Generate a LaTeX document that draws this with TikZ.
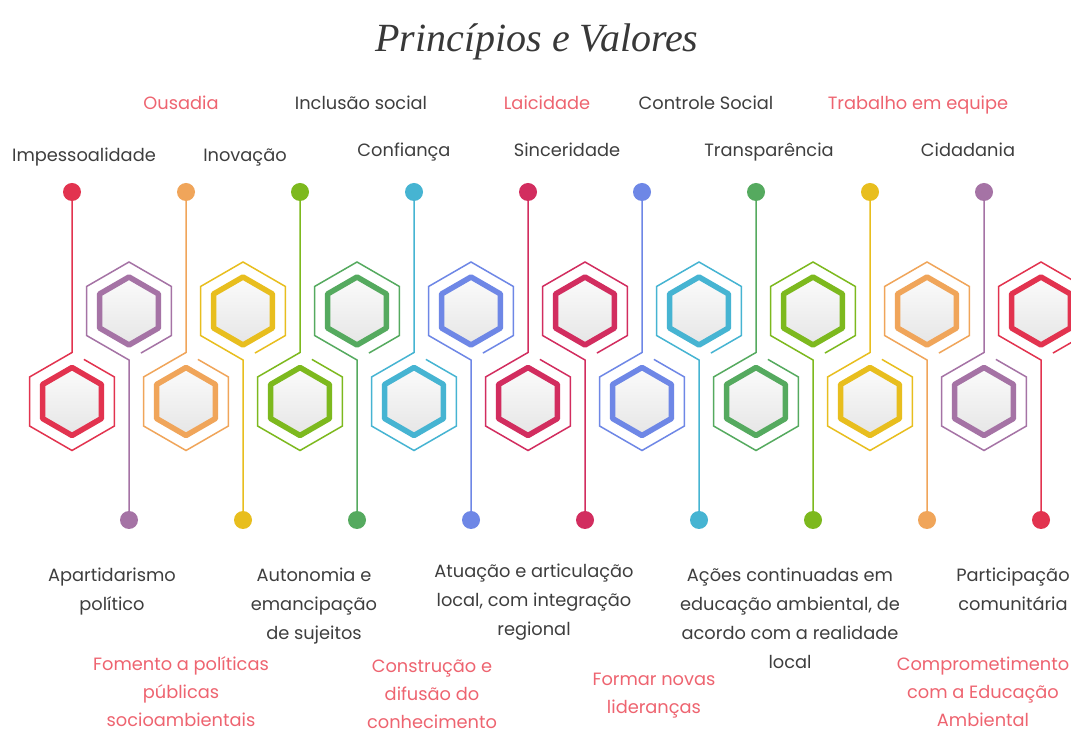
\documentclass[tikz,border=0pt]{standalone}
\usepackage{fontspec}
\setmainfont{Poppins}
\newfontfamily\titlefont{Liberation Serif}
\usetikzlibrary{calc}
\definecolor{cRed}{RGB}{226,51,79}
\definecolor{cOrange}{RGB}{240,165,90}
\definecolor{cLime}{RGB}{125,185,30}
\definecolor{cGreen}{RGB}{85,170,95}
\definecolor{cCyan}{RGB}{70,180,210}
\definecolor{cCrimson}{RGB}{210,45,95}
\definecolor{cBlue}{RGB}{110,135,230}
\definecolor{cYellow}{RGB}{232,190,30}
\definecolor{cPurple}{RGB}{165,115,165}
\definecolor{txt}{RGB}{62,62,62}
\definecolor{salmon}{RGB}{238,100,112}
\begin{document}
\begin{tikzpicture}[x=1pt,y=1pt,
  dot/.style={circle,inner sep=0pt,minimum size=18pt,draw=none},
  outerhex/.style={line width=1.5pt,line join=miter},
  innerhex/.style={line width=5.5pt,line join=round,top color=gray!3,bottom color=gray!20},
  lbl/.style={text=txt,font=\fontsize{17.8}{29}\selectfont,inner sep=0pt,align=center},
  lblr/.style={text=salmon,font=\fontsize{17.8}{28}\selectfont,inner sep=0pt,align=center}]
\useasboundingbox (0,0) rectangle (1071,734);
\fill[white] (0,0) rectangle (1071,734);

% title
\node[text=txt!90!black,font=\titlefont\itshape\fontsize{40}{44}\selectfont,inner sep=0pt] (title) at (537,692) {Princípios e Valores};

% lower hexagons (line to top dot)
\foreach \i/\c in {1/cRed,2/cOrange,3/cLime,4/cCyan,5/cCrimson,6/cBlue,7/cGreen,8/cYellow,9/cPurple}{
  \pgfmathsetmacro\xl{72+114*(\i-1)}
  \coordinate (L\i) at (\xl,332.5);
  \node[dot,fill=\c] (LT\i) at (\xl,542) {};
  \draw[outerhex,draw=\c] (LT\i) -- ($(L\i)+(90:49)$) -- ($(L\i)+(150:49)$) -- ($(L\i)+(210:49)$)
     -- ($(L\i)+(270:49)$) -- ($(L\i)+(330:49)$) -- ($(L\i)+(30:49)$) -- ($(L\i)+(11.9,42.1)$);
  \path[innerhex,draw=\c,shift={(L\i)}] (90:34) -- (150:34) -- (210:34) -- (270:34) -- (330:34) -- (30:34) -- cycle;
}
% upper hexagons (line to bottom dot)
\foreach \i/\c in {1/cPurple,2/cYellow,3/cGreen,4/cBlue,5/cCrimson,6/cCyan,7/cLime,8/cOrange,9/cRed}{
  \pgfmathsetmacro\xu{129+114*(\i-1)}
  \coordinate (U\i) at (\xu,423);
  \node[dot,fill=\c] (UB\i) at (\xu,214) {};
  \draw[outerhex,draw=\c] (UB\i) -- ($(U\i)+(270:49)$) -- ($(U\i)+(210:49)$) -- ($(U\i)+(150:49)$)
     -- ($(U\i)+(90:49)$) -- ($(U\i)+(30:49)$) -- ($(U\i)+(330:49)$) -- ($(U\i)+(11.9,-42.1)$);
  \path[innerhex,draw=\c,shift={(U\i)}] (90:34) -- (150:34) -- (210:34) -- (270:34) -- (330:34) -- (30:34) -- cycle;
}

% top labels
\node[lblr,anchor=base] (ousadia) at (181,624) {Ousadia};
\node[lbl,anchor=base] (inclusao) at (361,624) {Inclusão social};
\node[lblr,anchor=base] (laicidade) at (547,624) {Laicidade};
\node[lbl,anchor=base] (controle) at (706,624) {Controle Social};
\node[lblr,anchor=base] (trabalho) at (918,624) {Trabalho em equipe};
\node[lbl,anchor=base] (impess) at (84,572) {Impessoalidade};
\node[lbl,anchor=base] (inovacao) at (245,572) {Inovação};
\node[lbl,anchor=base] (confianca) at (404,577) {Confiança};
\node[lbl,anchor=base] (sinceridade) at (567,577) {Sinceridade};
\node[lbl,anchor=base] (transp) at (769,577) {Transparência};
\node[lbl,anchor=base] (cidadania) at (968,577) {Cidadania};

% bottom labels
\node[lbl,anchor=north] (apart) at (112,166) {Apartidarismo\\político};
\node[lbl,anchor=north] (autonomia) at (314,166) {Autonomia e\\emancipação\\de sujeitos};
\node[lbl,anchor=north] (atuacao) at (534,170) {Atuação e articulação\\local, com integração\\regional};
\node[lbl,anchor=north] (acoes) at (790,166) {Ações continuadas em\\educação ambiental, de\\acordo com a realidade\\local};
\node[lbl,anchor=north] (particip) at (1013,166) {Participação\\comunitária};
\node[lblr,anchor=north] (fomento) at (181,78) {Fomento a políticas\\públicas\\socioambientais};
\node[lblr,anchor=north] (construcao) at (432,74) {Construção e\\difusão do\\conhecimento};
\node[lblr,anchor=north] (formar) at (654,61) {Formar novas\\lideranças};
\node[lblr,anchor=north] (compromet) at (983,77) {Comprometimento\\com a Educação\\Ambiental};
\end{tikzpicture}
\end{document}
